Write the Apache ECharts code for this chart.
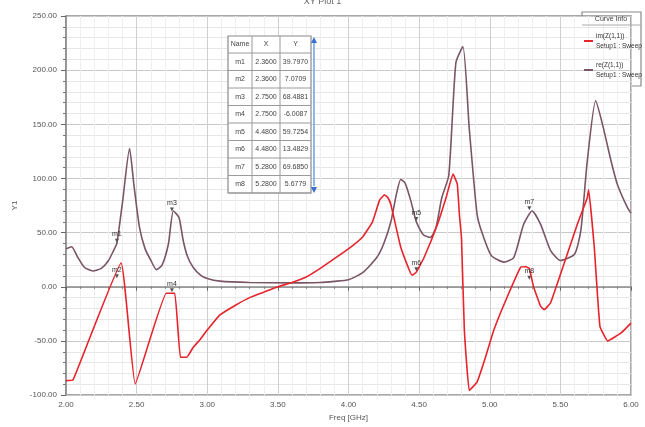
<!DOCTYPE html>
<html><head><meta charset="utf-8">
<script src="https://cdn.jsdelivr.net/npm/echarts@6/dist/echarts.min.js"></script>
<style>html,body{margin:0;padding:0;background:#fff}#c{width:645px;height:427px}</style>
</head><body><div id="c"></div>
<script>
const imFreq=[2.00,2.05,2.39,2.49,2.71,2.77,2.81,2.855,2.90,2.95,3.00,3.09,3.20,3.30,3.40,3.50,3.60,3.70,3.80,3.90,4.00,4.10,4.17,4.22,4.255,4.28,4.30,4.37,4.45,4.48,4.535,4.63,4.69,4.74,4.77,4.785,4.80,4.82,4.855,4.91,4.97,5.03,5.125,5.22,5.255,5.28,5.31,5.36,5.385,5.43,5.525,5.62,5.69,5.70,5.74,5.78,5.835,5.93,6.00];
const imVal=[-86.6,-86,22,-89.6,-6,-6,-65,-65,-56,-48.6,-40,-26,-17,-10,-5,0,4,9,17,26,35,46,60,80,85,82,76,36.5,10.6,13.5,27,57.7,82,104,95,67,45,-39.5,-95.7,-88,-65,-39.5,-9,18.2,18.5,17,0,-18,-21,-15,21,57.7,82,89.6,36.5,-36.5,-50,-42.6,-33.5];
const reFreq=[2.00,2.04,2.08,2.13,2.19,2.25,2.30,2.335,2.36,2.40,2.45,2.48,2.52,2.56,2.60,2.64,2.68,2.725,2.76,2.80,2.83,2.86,2.90,2.95,3.00,3.09,3.30,3.60,3.80,3.90,4.00,4.10,4.20,4.25,4.30,4.34,4.37,4.40,4.44,4.48,4.53,4.58,4.62,4.66,4.71,4.76,4.81,4.855,4.91,4.94,5.01,5.10,5.17,5.24,5.30,5.36,5.43,5.50,5.60,5.645,5.69,5.75,5.80,5.86,5.905,5.975,6.00];
const reVal=[35,37,28,18,14.6,17,24,33,40,78,127.6,95,55,35,24.6,15.8,20,39.5,70,64,42.5,28,18,11,7.6,5.2,4,3.6,4,5,6.5,13,27,40,60,86,99,96,80,60,48,45.6,55,82,103,206.6,221.8,146,67,52,29,22.8,27,57.7,70,57.7,33.7,24.3,30,52,115.5,171.7,149,115.5,94,73,68];
const seriesNames=['im(Z(1,1))','re(Z(1,1))'];
const setupName='Setup1 : Sweep';
const markerName=['m1','m2','m3','m4','m5','m6','m7','m8'];
const markerX=[2.3600,2.3600,2.7500,2.7500,4.4800,4.4800,5.2800,5.2800];
const markerY=[39.7970,7.0709,68.4881,-6.0087,59.7254,13.4829,69.6850,5.6779];
const markerOn=['re','im','re','im','re','im','re','im'];

const font='"Liberation Sans Narrow","Liberation Sans",sans-serif';
const toPairs=(xs,ys)=>xs.map((x,i)=>[x,ys[i]]);
const mk=s=>markerName.map((n,i)=>markerOn[i]===s?{name:n,coord:[markerX[i],markerY[i]]}:null).filter(Boolean);

const tx=228, ty=36, tw=83, headH=17, rowH=17.5;
const colX=[228,252,280,311];
const tbl=[];
tbl.push({type:'rect',shape:{x:tx,y:ty,width:tw,height:headH+rowH*markerName.length},style:{fill:'#fff',stroke:'#8a8a8a',lineWidth:1.2}});
for(let k=0;k<=markerName.length;k++){tbl.push({type:'line',shape:{x1:tx,y1:ty+headH+rowH*k,x2:tx+tw,y2:ty+headH+rowH*k},style:{stroke:'#9a9a9a',lineWidth:1}});}
[252,280].forEach(x=>tbl.push({type:'line',shape:{x1:x,y1:ty,x2:x,y2:ty+headH+rowH*markerName.length},style:{stroke:'#9a9a9a',lineWidth:1}}));
const hdr=['Name','X','Y'];
hdr.forEach((h,j)=>tbl.push({type:'text',style:{text:h,x:(colX[j]+colX[j+1])/2,y:ty+headH/2,textAlign:'center',textVerticalAlign:'middle',font:'7px '+font,fill:'#444'}}));
markerName.forEach((n,i)=>{
  const cy=ty+headH+rowH*i+rowH/2;
  const vals=[n,markerX[i].toFixed(4),markerY[i].toFixed(4)];
  vals.forEach((v,j)=>tbl.push({type:'text',style:{text:v,x:(colX[j]+colX[j+1])/2,y:cy,textAlign:'center',textVerticalAlign:'middle',font:'7px '+font,fill:'#444'}}));
});
tbl.push({type:'line',shape:{x1:314,y1:42,x2:314,y2:186},style:{stroke:'#8fb6ec',lineWidth:2}});
tbl.push({type:'polygon',shape:{points:[[311,43],[317,43],[314,37]]},style:{fill:'#3a6fd0'}});
tbl.push({type:'polygon',shape:{points:[[311,187],[317,187],[314,193]]},style:{fill:'#3a6fd0'}});
tbl.push({type:'rect',z:-1,shape:{x:582,y:12,width:59,height:74},style:{fill:'#fff',stroke:'#8a8a8a',lineWidth:1.2}});
tbl.push({type:'line',shape:{x1:582,y1:25,x2:641,y2:25},style:{stroke:'#aaa',lineWidth:1}});
tbl.push({type:'text',style:{text:'Curve Info',x:611,y:19,textAlign:'center',textVerticalAlign:'middle',font:'7px '+font,fill:'#444'}});

const chart=echarts.init(document.getElementById('c'),null,{renderer:'canvas'});
chart.setOption({
  animation:false,
  backgroundColor:'#fff',
  title:{text:'XY Plot 1',left:'center',top:-8,textStyle:{fontSize:9,color:'#666',fontWeight:'normal',fontFamily:font}},
  grid:{left:66,right:14,top:16,bottom:27,show:true,borderColor:'#8a8a8a',borderWidth:1.5,backgroundColor:'#fff'},
  legend:{data:seriesNames,orient:'vertical',left:584,top:31,itemWidth:9,itemHeight:2,itemGap:9,icon:'rect',
    formatter:n=>n+'\n'+setupName,textStyle:{fontSize:6.5,lineHeight:10,color:'#333',fontFamily:font,padding:[0,0,0,-2]},padding:0},
  xAxis:{type:'value',min:2,max:6,interval:0.5,name:'Freq [GHz]',nameLocation:'middle',nameGap:17,
    nameTextStyle:{fontSize:8,color:'#555',fontFamily:font},
    axisLine:{show:true,lineStyle:{color:'#8a8a8a',width:1.5}},
    axisTick:{show:true,length:4,lineStyle:{color:'#666'}},
    minorTick:{show:true,splitNumber:5,length:2,lineStyle:{color:'#777'}},
    axisLabel:{formatter:v=>v.toFixed(2),fontSize:8,color:'#555',fontFamily:font,margin:6},
    splitLine:{show:true,lineStyle:{color:'#cfcfcf',width:1}},
    minorSplitLine:{show:true,lineStyle:{color:'#efefef',width:1}}},
  yAxis:{type:'value',min:-100,max:250,interval:50,name:'Y1',nameLocation:'middle',nameGap:46,nameRotate:90,
    nameTextStyle:{fontSize:8,color:'#555',fontFamily:font},
    axisLine:{show:true,lineStyle:{color:'#8a8a8a',width:1.5}},
    axisTick:{show:true,length:5,lineStyle:{color:'#666'}},
    minorTick:{show:true,splitNumber:5,length:3,lineStyle:{color:'#777'}},
    axisLabel:{formatter:v=>v.toFixed(2),fontSize:8,color:'#555',fontFamily:font,margin:9},
    splitLine:{show:true,lineStyle:{color:'#c8c8c8',width:1}},
    minorSplitLine:{show:true,lineStyle:{color:'#e6e6e6',width:1}}},
  series:[
    {name:seriesNames[0],type:'line',data:toPairs(imFreq,imVal),showSymbol:false,smooth:0.1,
      lineStyle:{color:'#e8232b',width:1.6},itemStyle:{color:'#e8232b'},z:3,
      markPoint:{data:mk('im'),symbol:'triangle',symbolRotate:180,symbolSize:[4,4],symbolOffset:[0,-3],
        itemStyle:{color:'#555'},label:{show:true,formatter:p=>p.name,position:'top',distance:1,fontSize:7,color:'#333',fontFamily:font}}},
    {name:seriesNames[1],type:'line',data:toPairs(reFreq,reVal),showSymbol:false,smooth:0.2,
      lineStyle:{color:'#7a5566',width:1.6},itemStyle:{color:'#7a5566'},z:2,
      markPoint:{data:mk('re'),symbol:'triangle',symbolRotate:180,symbolSize:[4,4],symbolOffset:[0,-3],
        itemStyle:{color:'#555'},label:{show:true,formatter:p=>p.name,position:'top',distance:1,fontSize:7,color:'#333',fontFamily:font}}}
  ],
  graphic:tbl.map(g=>Object.assign({z:50},g))
});
</script></body></html>
